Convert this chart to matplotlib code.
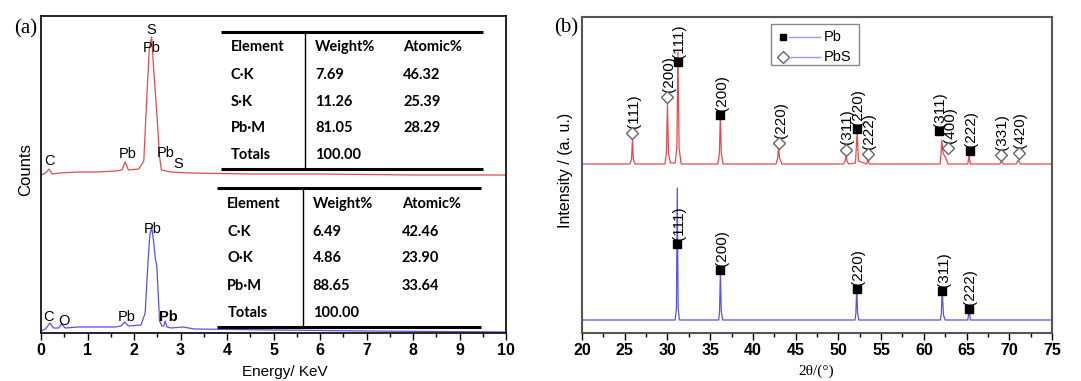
import matplotlib
matplotlib.use('Agg')
import matplotlib.pyplot as plt
from matplotlib.patches import Rectangle
from matplotlib.ticker import MultipleLocator

# ---------------- data ----------------
# EDS spectra (a): energy (KeV) / counts (arbitrary)
eds_red_x = [0, 0.1, 0.17, 0.24, 0.4, 0.8, 1.2, 1.6, 1.74, 1.81, 1.88, 2.1, 2.21, 2.28, 2.33,
             2.38, 2.41, 2.45, 2.5, 2.55, 2.59, 2.68, 2.8, 3.2, 4.5, 6, 8, 10]
eds_red_y = [158, 160, 164, 159, 160, 161, 161, 162, 163, 171, 163, 164, 172, 240, 285,
             296, 273, 246, 213, 176, 163, 162, 161, 160, 159, 159, 158, 158]
eds_blue_x = [0, 0.1, 0.19, 0.27, 0.38, 0.44, 0.52, 0.8, 1.2, 1.6, 1.72, 1.8, 1.88, 2.15, 2.24,
              2.30, 2.34, 2.38, 2.42, 2.46, 2.49, 2.52, 2.55, 2.6, 2.64, 2.67, 2.71, 2.8,
              3.05, 3.3, 5, 7, 10]
eds_blue_y = [2, 4, 10, 5, 5, 9, 5, 6, 6, 6, 7, 11, 7, 8, 20,
              70, 98, 106, 92, 74, 67, 40, 12, 7, 7, 12, 6, 5,
              6, 4, 3, 2, 1]

# EDS peak labels: (text, energy, height, bold)
eds_red_labels = [("S", 2.38, 303, False), ("Pb", 2.39, 285, False), ("C", 0.19, 172, False),
                  ("Pb", 1.86, 179, False), ("Pb", 2.68, 180, False), ("S", 2.96, 169, False)]
eds_blue_labels = [("Pb", 2.40, 104, False), ("C", 0.17, 15.7, False), ("O", 0.50, 12.3, False),
                   ("Pb", 1.84, 15.7, False), ("Pb", 2.73, 15.7, True)]

# composition tables
tab_header = ["Element", "Weight%", "Atomic%"]
tab1_elements = ["C·K", "S·K", "Pb·M", "Totals"]
tab1_weight = ["7.69", "11.26", "81.05", "100.00"]
tab1_atomic = ["46.32", "25.39", "28.29", ""]
tab2_elements = ["C·K", "O·K", "Pb·M", "Totals"]
tab2_weight = ["6.49", "4.86", "88.65", "100.00"]
tab2_atomic = ["42.46", "23.90", "33.64", ""]

# XRD patterns (b): 2theta / intensity (a.u.)
xrd_red_x = [20, 25.6, 25.8, 25.9, 26.0, 26.2, 29.7, 29.88, 30.0, 30.12, 30.35, 30.9, 31.1, 31.23,
             31.36, 31.6, 35.9, 36.08, 36.19, 36.3, 36.5, 42.7, 42.9, 43.0, 43.12, 43.4, 50.6,
             50.8, 50.9, 51.0, 51.2, 52.0, 52.2, 52.35, 53.3, 53.45, 53.6, 61.9, 62.0, 62.1,
             62.25, 62.55, 62.85, 65.15, 65.3, 65.45, 68.9, 69.1, 69.3, 70.8, 71.05, 71.3, 75]
xrd_red_y = [169, 169, 174, 194, 174, 169, 169, 180, 229, 180, 170, 170, 185, 281,
             185, 169, 169, 180, 218, 180, 169, 169, 175, 186, 175, 169, 169,
             172, 179, 172, 169, 170, 201, 172, 169, 173.7, 169, 169, 178, 193,
             180, 175, 169, 169, 178, 169, 169, 172, 169, 169, 173, 169, 169]
xrd_blue_x = [20, 30.9, 31.05, 31.15, 31.25, 31.4, 36.0, 36.1, 36.19, 36.3, 36.45, 51.95, 52.05,
              52.15, 52.25, 52.4, 61.95, 62.05, 62.15, 62.3, 62.5, 65.15, 65.3, 65.45, 75]
xrd_blue_y = [13, 13, 25, 145, 25, 13, 13, 22, 61, 22, 13, 13, 20,
              45, 20, 13, 13, 20, 43, 18, 13, 13, 23.7, 13, 13]

# reflections: (hkl, 2theta, marker height)
red_pb_hkl = ["(111)", "(200)", "(220)", "(311)", "(222)"]
red_pb_pos = [31.23, 36.19, 52.2, 61.75, 65.4]
red_pb_mark = [271.3, 218, 203.7, 202, 182]
red_pbs_hkl = ["(111)", "(200)", "(220)", "(311)", "(222)", "(400)", "(331)", "(420)"]
red_pbs_pos = [25.9, 29.98, 43.09, 50.9, 53.45, 62.87, 69.03, 71.14]
red_pbs_mark = [199.7, 235.7, 189.7, 183, 178.7, 184.7, 178, 179.7]
blue_pb_hkl = ["(111)", "(200)", "(220)", "(311)", "(222)"]
blue_pb_pos = [31.15, 36.19, 52.15, 62.17, 65.3]
blue_pb_mark = [88.7, 63, 43.7, 42, 24]

RED = '#e64a4e'
BLUE = '#5555e0'
SANS = ['Liberation Sans', 'DejaVu Sans']
SERIF = ['Liberation Serif', 'DejaVu Serif']

fig = plt.figure(figsize=(10.81, 3.81), dpi=100)
W, H = 1081, 381
axL = fig.add_axes([41 / W, 1 - 333 / H, 465 / W, 317 / H])
axR = fig.add_axes([582 / W, 1 - 333 / H, 470 / W, 316 / H])

# ---------------- panel (a) ----------------
axL.plot(eds_red_x, eds_red_y, color=RED, lw=0.9)
axL.plot(eds_blue_x, eds_blue_y, color=BLUE, lw=0.9)
axL.set_xlim(0, 10)
axL.set_ylim(0, 317)
axL.set_yticks([])
axL.xaxis.set_major_locator(MultipleLocator(1))
axL.xaxis.set_minor_locator(MultipleLocator(0.5))
for t, x, y, b in eds_red_labels + eds_blue_labels:
    axL.text(x, y, t, ha='center', va='center', fontsize=10.5, family=SANS,
             fontweight='bold' if b else 'normal')

def draw_table(ax, x0, x1, xv, ytop, ybot, cols, rows_y, header, c1, c2, c3):
    ax.plot([x0, x1], [ytop, ytop], color='k', lw=2.2, solid_capstyle='butt')
    ax.plot([x0, x1], [ybot, ybot], color='k', lw=2.2, solid_capstyle='butt')
    ax.plot([xv, xv], [ytop, ybot], color='k', lw=1.0)
    kw = dict(ha='left', va='center', fontsize=10.5, family=['Lato', 'DejaVu Sans'],
              fontweight='bold')
    for j, h in enumerate(header):
        ax.text(cols[j], rows_y[0], h, **kw)
    for i in range(len(c1)):
        ax.text(cols[0], rows_y[i + 1], c1[i], **kw)
        ax.text(cols[1], rows_y[i + 1], c2[i], **kw)
        ax.text(cols[2], rows_y[i + 1], c3[i], **kw)

draw_table(axL, 3.865, 9.5, 5.684, 300.7, 163.7, [4.08, 5.89, 7.79],
           [285.7, 258, 231.3, 204.7, 178], tab_header, tab1_elements, tab1_weight, tab1_atomic)
draw_table(axL, 3.79, 9.456, 5.63, 144.7, 6.3, [4.006, 5.843, 7.757],
           [128.7, 101.3, 74.7, 47, 20.3], tab_header, tab2_elements, tab2_weight, tab2_atomic)

axL.set_xlabel('Energy/ KeV', fontsize=11, family=SANS)
axL.xaxis.set_label_coords(0.524, -0.1)
axL.set_ylabel('Counts', fontsize=12, family=SANS)
axL.yaxis.set_label_coords(-0.034, 0.517)
axL.yaxis.label.set_va('center')
for s in axL.spines.values():
    s.set_linewidth(1.2)

# ---------------- panel (b) ----------------
axR.plot(xrd_red_x, xrd_red_y, color=RED, lw=0.9)
axR.plot(xrd_blue_x, xrd_blue_y, color=BLUE, lw=0.9)
axR.set_xlim(20, 75)
axR.set_ylim(0, 316)
axR.set_yticks([])
axR.xaxis.set_major_locator(MultipleLocator(5))
axR.xaxis.set_minor_locator(MultipleLocator(2.5))

lab_kw = dict(rotation=90, ha='center', va='bottom', fontsize=11, family=SANS)
axR.plot(red_pb_pos, red_pb_mark, ls='none', marker='s', ms=6, color='k', zorder=5)
axR.plot(red_pbs_pos, red_pbs_mark, ls='none', marker='D', ms=6.5, mfc='white',
         mec='#666666', mew=1, zorder=5)
axR.plot(blue_pb_pos, blue_pb_mark, ls='none', marker='s', ms=6, color='k', zorder=5)
for h, x, y in zip(red_pb_hkl, red_pb_pos, red_pb_mark):
    axR.text(x + 0.15, y + 4, h, **lab_kw)
for h, x, y in zip(red_pbs_hkl, red_pbs_pos, red_pbs_mark):
    axR.text(x + 0.15, y + 5.5, h, **lab_kw)
for h, x, y in zip(blue_pb_hkl, blue_pb_pos, blue_pb_mark):
    axR.text(x + 0.15, y + 4, h, **lab_kw)

# legend
axR.add_patch(Rectangle((42.12, 268), 10.3, 41, facecolor='white', edgecolor='#888888',
                        lw=1, zorder=6))
axR.plot([43.49], [295.7], marker='s', ms=5, color='k', ls='none', zorder=7)
axR.plot([44.22, 47.85], [295.7, 295.7], color='#9999ee', lw=1, zorder=7)
axR.text(48.3, 295.7, 'Pb', ha='left', va='center', fontsize=10.5, family=SANS, zorder=7)
axR.plot([43.49], [276.3], marker='D', ms=6, mfc='white', mec='#666666', ls='none', zorder=7)
axR.plot([44.22, 47.85], [276.3, 276.3], color='#9999ee', lw=1, zorder=7)
axR.text(48.3, 276.3, 'PbS', ha='left', va='center', fontsize=10.5, family=SANS, zorder=7)

axR.set_xlabel('2θ/(°)', fontsize=11, family=SERIF)
axR.xaxis.set_label_coords(0.498, -0.1)
axR.set_ylabel('Intensity / (a. u.)', fontsize=11.5, family=SANS)
axR.yaxis.set_label_coords(-0.036, 0.516)
axR.yaxis.label.set_va('center')
for s in axR.spines.values():
    s.set_linewidth(1.5)
    s.set_color('#555555')

for ax in (axL, axR):
    ax.tick_params(axis='x', which='major', direction='out', length=5, width=1,
                   labelsize=11.5, pad=2)
    ax.tick_params(axis='x', which='minor', direction='out', length=3, width=1)
    for lbl in ax.get_xticklabels():
        lbl.set_fontweight('bold')
        lbl.set_family(SANS)

fig.text(26 / W, 1 - 29 / H, '(a)', ha='center', va='center', fontsize=15, family=SERIF)
fig.text(566 / W, 1 - 28 / H, '(b)', ha='center', va='center', fontsize=15, family=SERIF)

fig.savefig('out.png', dpi=100)
